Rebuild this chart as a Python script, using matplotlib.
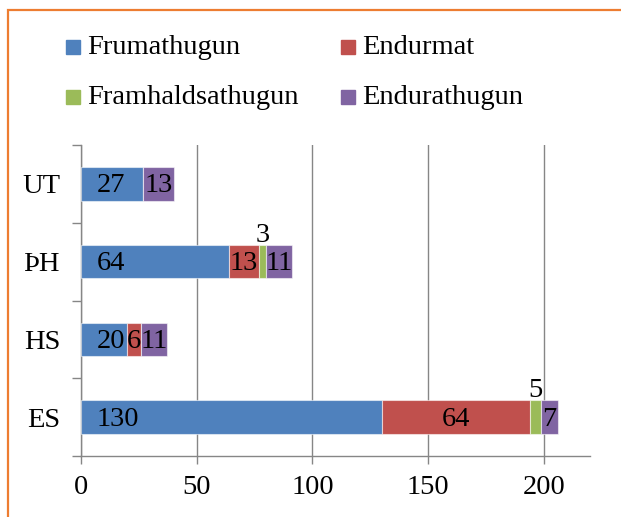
import matplotlib
matplotlib.use("Agg")
import matplotlib.pyplot as plt
from matplotlib.patches import Rectangle
from matplotlib.ticker import FixedLocator
import numpy as np

categories = ["ES", "HS", "ÞH", "UT"]
series_names = ["Frumathugun", "Endurmat", "Framhaldsathugun", "Endurathugun"]
frumathugun = [130, 20, 64, 27]
endurmat = [64, 6, 13, 0]
framhald = [5, 0, 3, 0]
endurathugun = [7, 11, 11, 13]
xticks = [0, 50, 100, 150, 200]

colors = ["#4F81BD", "#C0504D", "#9BBB59", "#8064A2"]
FONT = "Liberation Serif"
FS = 20.5
GRAY = "#868686"

W, H = 621, 517
fig = plt.figure(figsize=(W / 100, H / 100), dpi=100)

def fx(px):
    return px / W

def fy(py):
    return 1 - py / H

# orange frame
fig.patches.append(Rectangle((fx(7.5), -0.1), 1.2, fy(10) + 0.1, transform=fig.transFigure,
                             fill=False, edgecolor="#ED7D31", linewidth=1.6))

ax = fig.add_axes([fx(81), fy(456), fx(590) - fx(81), fy(145) - fy(456)])

data = [frumathugun, endurmat, framhald, endurathugun]
y = np.arange(len(categories))
left = np.zeros(len(categories))
bar_h = 0.43
for si, (vals, col) in enumerate(zip(data, colors)):
    vals = np.array(vals, dtype=float)
    ax.barh(y, vals, left=left, height=bar_h, color=col, edgecolor=(1, 1, 1, 0.55),
            linewidth=0.8, zorder=3)
    for yi, (l, v) in enumerate(zip(left, vals)):
        if v == 0:
            continue
        if si == 0:
            ax.annotate(f"{int(v)}", xy=(l, yi), xytext=(11, -1.5), textcoords="offset points",
                        ha="left", va="center", fontsize=FS, family=FONT, zorder=4)
        elif si == 2:
            ax.annotate(f"{int(v)}", xy=(l + v / 2, yi + bar_h / 2), xytext=(0, -2),
                        textcoords="offset points", ha="center", va="bottom",
                        fontsize=FS, family=FONT, zorder=4)
        else:
            ax.annotate(f"{int(v)}", xy=(l + v / 2, yi), xytext=(0, -1.5),
                        textcoords="offset points", ha="center", va="center",
                        fontsize=FS, family=FONT, zorder=4)
    left = left + vals

ax.set_xlim(0, 220)
ax.set_ylim(-0.5, len(categories) - 0.5)
ax.set_xticks(xticks)
ax.set_xticklabels([str(t) for t in xticks], fontsize=FS, family=FONT)
ax.set_yticks(y)
ax.set_yticklabels(categories, fontsize=FS, family=FONT)
ax.yaxis.set_minor_locator(FixedLocator(np.arange(-0.5, len(categories), 1.0)))
ax.tick_params(axis="y", which="major", length=0, pad=15)
ax.tick_params(axis="y", which="minor", length=6.5, width=1, color=GRAY, direction="out")
ax.tick_params(axis="x", which="major", length=6, width=1, color=GRAY, direction="out", pad=8)

ax.grid(axis="x", color=GRAY, linewidth=1.0, zorder=0)
ax.set_axisbelow(True)
for s in ["top", "right"]:
    ax.spines[s].set_visible(False)
for s in ["left", "bottom"]:
    ax.spines[s].set_color(GRAY)
    ax.spines[s].set_linewidth(1.0)

# legend
leg_pos = [(66, 47), (341, 47), (66, 97), (341, 97)]
for name, col, (px, py) in zip(series_names, colors, leg_pos):
    fig.patches.append(Rectangle((fx(px), fy(py + 7)), fx(14), 14 / H,
                                 transform=fig.transFigure, color=col))
    fig.text(fx(px + 21), fy(py + 1), name, ha="left", va="center", fontsize=FS, family=FONT)

fig.savefig("out.png", dpi=100)
